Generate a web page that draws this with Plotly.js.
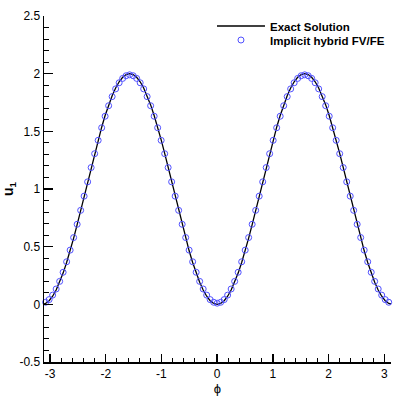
<!DOCTYPE html>
<html>
<head>
<meta charset="utf-8">
<script src="https://cdn.plot.ly/plotly-3.0.1.min.js"></script>
<style>
  html, body { margin: 0; padding: 0; background: #fff; }
  #plot { width: 399px; height: 399px; }
</style>
</head>
<body>
<div id="plot"></div>
<script>
// grid points in phi
var phi = [-3.142,-3.079,-3.016,-2.953,-2.890,-2.827,-2.765,-2.702,-2.639,-2.576,-2.513,-2.450,-2.388,-2.325,-2.262,-2.199,-2.136,-2.073,-2.011,-1.948,-1.885,-1.822,-1.759,-1.696,-1.634,-1.571,-1.508,-1.445,-1.382,-1.319,-1.257,-1.194,-1.131,-1.068,-1.005,-0.942,-0.880,-0.817,-0.754,-0.691,-0.628,-0.565,-0.503,-0.440,-0.377,-0.314,-0.251,-0.188,-0.126,-0.063,0,
  0.063,0.126,0.188,0.251,0.314,0.377,0.440,0.503,0.565,0.628,0.691,0.754,0.817,0.880,0.942,1.005,1.068,1.131,1.194,1.257,1.319,1.382,1.445,1.508,1.571,1.634,1.696,1.759,1.822,1.885,1.948,2.011,2.073,2.136,2.199,2.262,2.325,2.388,2.450,2.513,2.576,2.639,2.702,2.765,2.827,2.890,2.953,3.016,3.079,3.142];

// exact solution
var exactU = [0,0.0079,0.0314,0.0702,0.1237,0.1910,0.2710,0.3626,0.4642,0.5742,0.6910,0.8126,0.9372,1.0628,1.1874,1.3090,1.4258,1.5358,1.6374,1.7290,1.8090,1.8763,1.9298,1.9686,1.9921,2.0000,1.9921,1.9686,1.9298,1.8763,1.8090,1.7290,1.6374,1.5358,1.4258,1.3090,1.1874,1.0628,0.9372,0.8126,0.6910,0.5742,0.4642,0.3626,0.2710,0.1910,0.1237,0.0702,0.0314,0.0079,0,
  0.0079,0.0314,0.0702,0.1237,0.1910,0.2710,0.3626,0.4642,0.5742,0.6910,0.8126,0.9372,1.0628,1.1874,1.3090,1.4258,1.5358,1.6374,1.7290,1.8090,1.8763,1.9298,1.9686,1.9921,2.0000,1.9921,1.9686,1.9298,1.8763,1.8090,1.7290,1.6374,1.5358,1.4258,1.3090,1.1874,1.0628,0.9372,0.8126,0.6910,0.5742,0.4642,0.3626,0.2710,0.1910,0.1237,0.0702,0.0314,0.0079,0];

// implicit hybrid FV/FE result
var hybridU = [0.010,0.018,0.041,0.080,0.133,0.199,0.278,0.369,0.470,0.579,0.694,0.815,0.938,1.062,1.186,1.306,1.422,1.531,1.631,1.722,1.801,1.868,1.921,1.959,1.982,1.990,1.982,1.959,1.921,1.868,1.801,1.722,1.631,1.531,1.422,1.306,1.186,1.062,0.938,0.815,0.694,0.579,0.470,0.369,0.278,0.199,0.133,0.080,0.041,0.018,0.010,
  0.018,0.041,0.080,0.133,0.199,0.278,0.369,0.470,0.579,0.694,0.815,0.938,1.062,1.186,1.306,1.422,1.531,1.631,1.722,1.801,1.868,1.921,1.959,1.982,1.990,1.982,1.959,1.921,1.868,1.801,1.722,1.631,1.531,1.422,1.306,1.186,1.062,0.938,0.815,0.694,0.579,0.470,0.369,0.278,0.199,0.133,0.080,0.041,0.018,0.010];

// tick labels (plain hyphen like the original)
var xTicks = [-3, -2, -1, 0, 1, 2, 3];
var xTickText = ["-3", "-2", "-1", "0", "1", "2", "3"];
var yTicks = [-0.5, 0, 0.5, 1, 1.5, 2, 2.5];
var yTickText = ["-0.5", "0", "0.5", "1", "1.5", "2", "2.5"];

var exact = {
  x: phi,
  y: exactU,
  name: "Exact Solution",
  type: "scatter",
  mode: "lines",
  legend: "legend",
  line: {color: "black", width: 1.3}
};

var hybrid = {
  x: phi,
  y: hybridU,
  name: "Implicit hybrid FV/FE",
  type: "scatter",
  mode: "markers",
  legend: "legend2",
  cliponaxis: false,
  marker: {symbol: "circle-open", size: 6, color: "rgb(80,80,255)", line: {width: 1, color: "rgb(80,80,255)"}}
};

// one legend per row so the rows can sit close together
var legendBase = {
  xanchor: "left", yanchor: "top",
  bgcolor: "rgba(0,0,0,0)",
  font: {size: 11.5, weight: "bold"},
  itemwidth: 48
};

var layout = {
  width: 399,
  height: 399,
  margin: {l: 44, r: 8, t: 16, b: 37},
  paper_bgcolor: "white",
  plot_bgcolor: "white",
  font: {family: "Liberation Sans, Arial, sans-serif", size: 12, color: "black"},
  showlegend: true,
  legend: Object.assign({x: 0.4841, y: 1.013}, legendBase),
  legend2: Object.assign({x: 0.4841, y: 0.9725}, legendBase),
  xaxis: {
    range: [-3.108, 3.12],
    tickmode: "array",
    tickvals: xTicks,
    ticktext: xTickText,
    ticks: "inside",
    ticklen: 8,
    tickwidth: 1.5,
    tickcolor: "black",
    minor: {dtick: 0.2, ticks: "inside", ticklen: 4, tickwidth: 1, tickcolor: "black"},
    showline: true,
    linecolor: "black",
    linewidth: 1.5,
    showgrid: false,
    zeroline: false,
    title: {text: "ϕ", font: {size: 13}, standoff: 0}
  },
  yaxis: {
    range: [-0.5, 2.5],
    tickmode: "array",
    tickvals: yTicks,
    ticktext: yTickText,
    ticks: "inside",
    ticklen: 9,
    tickwidth: 1.5,
    tickcolor: "black",
    minor: {dtick: 0.1, ticks: "inside", ticklen: 5, tickwidth: 1, tickcolor: "black"},
    showline: true,
    linecolor: "black",
    linewidth: 1.5,
    showgrid: false,
    zeroline: false,
    title: {text: "<b>u<sub>1</sub></b>", font: {size: 14}, standoff: 4}
  }
};

Plotly.newPlot("plot", [exact, hybrid], layout, {staticPlot: true});
</script>
</body>
</html>
